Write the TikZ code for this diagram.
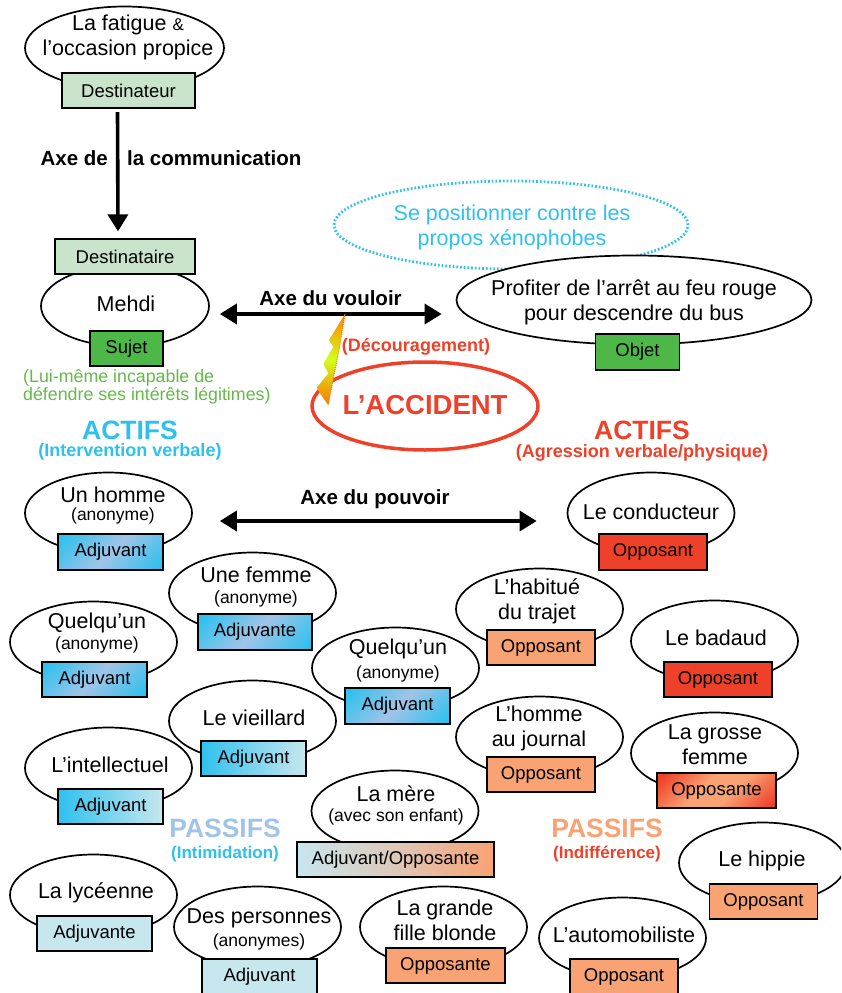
\documentclass[tikz,border=0pt]{standalone}
\usepackage{fontspec}
\setmainfont{Liberation Sans}
\usetikzlibrary{arrows.meta,shapes.geometric}
\definecolor{vertclair}{HTML}{C9E4CA}
\definecolor{vert}{HTML}{4DB848}
\definecolor{vertt}{HTML}{62BB46}
\definecolor{cyanf}{HTML}{2FC1EE}
\definecolor{pervenche}{HTML}{A0C4E8}
\definecolor{bleuclair}{HTML}{C7E7EF}
\definecolor{rouge}{HTML}{EF4029}
\definecolor{saumon}{HTML}{F9A273}
\pgfdeclareverticalshading{adjuvdiag}{100bp}{color(0bp)=(cyanf); color(18bp)=(cyanf); color(50bp)=(pervenche); color(82bp)=(cyanf); color(100bp)=(cyanf)}
\pgfdeclareverticalshading{grossediag}{100bp}{color(0bp)=(rouge); color(18bp)=(rouge); color(42bp)=(saumon); color(58bp)=(saumon); color(82bp)=(rouge); color(100bp)=(rouge)}
\pgfdeclareverticalshading{eclairgrad}{100bp}{color(0bp)=(orange!90!red); color(25bp)=(orange!90!red); color(50bp)=(yellow!80!green!90!white); color(75bp)=(orange); color(100bp)=(orange)}
\tikzset{
  acteur/.style={draw,ellipse,line width=1.7pt,inner sep=0pt,minimum width=167pt,minimum height=81pt},
  nom/.style={align=center,inner sep=0pt,font=\fontsize{21.5}{25}\selectfont},
  sous/.style={inner sep=0pt,font=\fontsize{17.5}{20}\selectfont},
  role/.style={draw,line width=1.8pt,inner sep=0pt,minimum height=35.5pt,font=\fontsize{18.5}{20}\selectfont},
  adjuv/.style={role,minimum width=105pt,shading=adjuvdiag,shading angle=45},
  adjuvclair/.style={role,minimum width=105pt,left color=cyanf,right color=bleuclair},
  adjuvpale/.style={role,minimum width=115pt,fill=bleuclair},
  oppo/.style={role,minimum width=108pt,fill=saumon},
  opporouge/.style={role,minimum width=108pt,fill=rouge},
  axe/.style={line width=3.6pt,{Triangle[length=17pt,width=20pt]}-{Triangle[length=17pt,width=20pt]}},
  axetxt/.style={inner sep=0pt,font=\fontsize{20.5}{24}\selectfont\bfseries},
  titre/.style={inner sep=0pt,font=\fontsize{26.5}{30}\selectfont\bfseries},
  soustitre/.style={inner sep=0pt,font=\fontsize{18}{20}\selectfont\bfseries}
}
\begin{document}
\begin{tikzpicture}[x=1pt,y=-1pt]
    \clip (0,0) rectangle (841,993);
    % destinateur et destinataire
    \node[acteur,minimum width=199pt,minimum height=83pt] (fatigue) at (124.5,48) {};
    \node[nom] (fatiguet) at (128,37.5) {La fatigue {\fontsize{17}{20}\selectfont\&}\\l’occasion propice};
    \node[role,fill=vertclair,minimum width=133pt] (destinateur) at (128.5,90.5) {Destinateur};
    \node[acteur,minimum width=168pt] (mehdi) at (125,306) {};
    \node[nom] (mehdit) at (126,304) {Mehdi};
    \node[role,fill=vertclair,minimum width=140pt] (destinataire) at (125,256.5) {Destinataire};
    \node[role,fill=vert,minimum width=73pt] (sujet) at (126.5,348.5) {Sujet};
    \draw[line width=3.6pt,-{Triangle[length=17pt,width=20pt]}] ([xshift=-11pt,yshift=-3pt]destinateur.south) -- ([xshift=-7pt,yshift=6.5pt]destinataire.north);
    \node[axetxt,anchor=east] (axecom1) at (108,158) {Axe de};
    \node[axetxt,anchor=west] (axecom2) at (127,158) {la communication};
    \node[anchor=west,align=left,inner sep=0pt,text=vertt,font=\fontsize{17.8}{18.2}\selectfont] (incapable) at (23,387) {(Lui-même incapable de\\défendre ses intérêts légitimes)};
    % objet
    \node[acteur,dotted,draw=cyanf,line width=2.8pt,minimum width=354pt,minimum height=88pt] (positionner) at (511,225) {};
    \node[nom,text=cyanf] (positionnert) at (512,227.5) {Se positionner contre les\\propos xénophobes};
    \node[acteur,fill=white,minimum width=355pt,minimum height=89pt] (profiter) at (634,300) {};
    \node[nom] (profitert) at (634,302) {Profiter de l’arrêt au feu rouge\\pour descendre du bus};
    \node[role,fill=vert,minimum width=84pt] (objet) at (637.5,352) {Objet};
    \draw[axe] ([xshift=10pt,yshift=-8pt]mehdi.east) -- ([xshift=-14pt,yshift=-14pt]profiter.west);
    \node[axetxt] (axevouloir) at (330.5,298) {Axe du vouloir};
    % accident
    \node[acteur,draw=rouge,line width=3.5pt,minimum width=226pt,minimum height=88pt] (accident) at (425,406) {};
    \node[titre,text=rouge,font=\fontsize{27.5}{30}\selectfont\bfseries] (accidentt) at (425,405) {L’ACCIDENT};
    \node[soustitre,text=rouge] (decouragement) at (416,347) {(Découragement)};
    \shade[shading=eclairgrad] (345,314) -- (329,340) -- (333.3,347) -- (323.3,364) -- (328.3,373.3) -- (316.7,387.7) -- (320,393.3) -- (328.3,405) -- (333,380) -- (339,350) -- cycle;
    \draw[orange,line width=1pt,densely dotted] (345,314) -- (339,350) -- (333,380) -- (328.3,405);
    % titres
    \node[titre,text=cyanf] (actifsg) at (130,430) {ACTIFS};
    \node[soustitre,text=cyanf] (intervention) at (130,452) {(Intervention verbale)};
    \node[titre,text=rouge] (actifsd) at (642,430) {ACTIFS};
    \node[soustitre,text=rouge] (agression) at (642,453) {(Agression verbale/physique)};
    \node[titre,text=pervenche] (passifsg) at (225,828) {PASSIFS};
    \node[soustitre,text=cyanf,font=\fontsize{17}{20}\selectfont\bfseries] (intimidation) at (225,854) {(Intimidation)};
    \node[titre,text=saumon] (passifsd) at (607,828) {PASSIFS};
    \node[soustitre,text=rouge,font=\fontsize{17}{20}\selectfont\bfseries] (indifference) at (607,854) {(Indifférence)};
    % adjuvants
    \node[acteur] (homme) at (108.5,513) {};
    \node[nom] (hommet) at (113,495) {Un homme};
    \node[sous] (hommes) at (113,516) {(anonyme)};
    \node[adjuv] (hommer) at (110.5,552) {Adjuvant};
    \node[acteur] (femme) at (252.5,593) {};
    \node[nom] (femmet) at (256,575) {Une femme};
    \node[sous] (femmes) at (256,599) {(anonyme)};
    \node[adjuv,minimum width=114pt] (femmer) at (255,632) {Adjuvante};
    \node[acteur] (quelquun) at (93.5,642) {};
    \node[nom] (quelquunt) at (97,623) {Quelqu’un};
    \node[sous] (quelquuns) at (97,645) {(anonyme)};
    \node[adjuv] (quelquunr) at (94.5,679.5) {Adjuvant};
    \node[acteur] (quidam) at (395.5,668) {};
    \node[nom] (quidamt) at (398,649) {Quelqu’un};
    \node[sous] (quidams) at (398,674) {(anonyme)};
    \node[adjuv] (quidamr) at (397.5,706) {Adjuvant};
    \node[acteur] (vieillard) at (252.5,721) {};
    \node[nom] (vieillardt) at (254,718) {Le vieillard};
    \node[adjuvclair] (vieillardr) at (253.5,758.5) {Adjuvant};
    \node[acteur] (intellectuel) at (108.5,768) {};
    \node[nom] (intellectuelt) at (110,765) {L’intellectuel};
    \node[adjuvclair] (intellectuelr) at (110.5,806.5) {Adjuvant};
    \node[acteur] (lyceenne) at (93.5,895) {};
    \node[nom] (lyceennet) at (96,893) {La lycéenne};
    \node[adjuvpale] (lyceenner) at (94.5,933.5) {Adjuvante};
    \node[acteur] (personnes) at (257.5,927) {};
    \node[nom] (personnest) at (259,918) {Des personnes};
    \node[sous] (personness) at (259,942) {(anonymes)};
    \node[adjuvpale] (personnesr) at (259.5,976.5) {Adjuvant};
    \node[acteur] (mere) at (395,811) {};
    \node[nom] (meret) at (396,794) {La mère};
    \node[sous] (meres) at (396,817) {(avec son enfant)};
    \node[role,minimum width=197pt,left color=bleuclair,right color=saumon,middle color=bleuclair!55!saumon] (merer) at (395.5,859.5) {Adjuvant/Opposante};
    % opposants
    \node[acteur] (conducteur) at (651,513) {};
    \node[nom] (conducteurt) at (651,512) {Le conducteur};
    \node[opporouge] (conducteurr) at (653,552) {Opposant};
    \node[acteur] (habitue) at (539.5,609) {};
    \node[nom] (habituet) at (537,601.5) {L’habitué\\du trajet};
    \node[oppo] (habituer) at (541,647.5) {Opposant};
    \node[acteur] (badaud) at (714.5,641) {};
    \node[nom] (badaudt) at (716,638) {Le badaud};
    \node[opporouge] (badaudr) at (718,679.5) {Opposant};
    \node[acteur] (journal) at (539.5,737) {};
    \node[nom] (journalt) at (539,728.5) {L’homme\\au journal};
    \node[oppo] (journalr) at (541,774.5) {Opposant};
    \node[acteur] (grosse) at (714.5,753) {};
    \node[nom] (grosset) at (715,745) {La grosse\\femme};
    \node[role,minimum width=119pt,shading=grossediag,shading angle=45] (grosser) at (716.5,790.5) {Opposante};
    \node[acteur] (hippie) at (762.5,863) {};
    \node[nom] (hippiet) at (762,861) {Le hippie};
    \node[oppo] (hippier) at (763.5,901.5) {Opposant};
    \node[acteur] (automobiliste) at (622.5,938) {};
    \node[nom] (automobilistet) at (624,935) {L’automobiliste};
    \node[oppo] (automobilister) at (624,976.5) {Opposant};
    \node[acteur] (grande) at (443.5,927) {};
    \node[nom] (grandet) at (445,920) {La grande\\fille blonde};
    \node[oppo,minimum width=119pt] (grander) at (445.5,965.5) {Opposante};
    % axe du pouvoir
    \draw[axe] ([xshift=27pt,yshift=-8pt]homme.east) -- ([xshift=-30pt,yshift=-8pt]conducteur.west);
    \node[axetxt] (axepouvoir) at (375,499) {Axe du pouvoir};
\end{tikzpicture}
\end{document}
